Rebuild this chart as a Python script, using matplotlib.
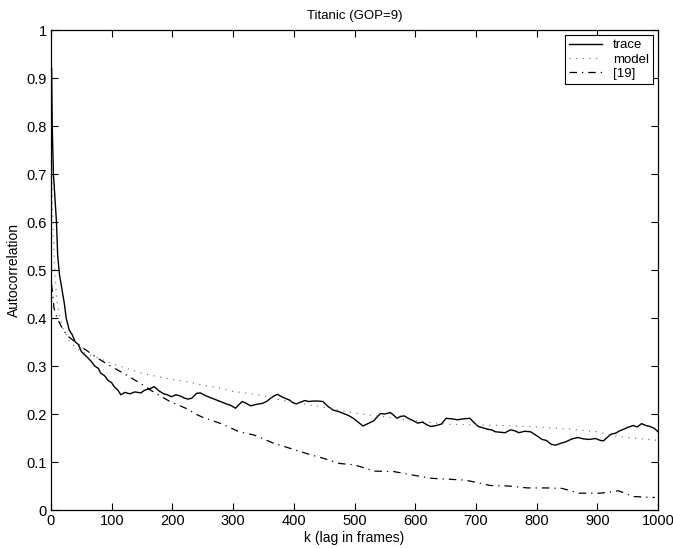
import matplotlib
matplotlib.use("Agg")
import matplotlib.pyplot as plt

plt.rcParams['font.family'] = ['Liberation Sans', 'DejaVu Sans']

title = "Titanic (GOP=9)"
xlabel = "k (lag in frames)"
ylabel = "Autocorrelation"
legend_labels = ["trace", "model", "[19]"]
xticks = [0, 100, 200, 300, 400, 500, 600, 700, 800, 900, 1000]
yticks = [0, 0.1, 0.2, 0.3, 0.4, 0.5, 0.6, 0.7, 0.8, 0.9, 1]
ytick_labels = ["0", "0.1", "0.2", "0.3", "0.4", "0.5", "0.6", "0.7", "0.8", "0.9", "1"]

trace_k = [1, 2, 4, 6, 9, 11, 14, 18, 22, 25, 30, 35, 40, 45, 50, 54, 60, 66, 72, 78,
           82, 88, 94, 100, 104, 110, 115, 122, 130, 138, 148, 155, 162, 170, 178, 186,
           192, 198, 206, 214, 220, 226, 232, 240, 246, 255, 265, 275, 287, 296, 304,
           310, 315, 322, 329, 338, 348, 355, 362, 368, 373, 380, 387, 393, 398, 404,
           410, 418, 425, 432, 440, 448, 456, 465, 474, 482, 490, 498, 506, 514, 522,
           532, 538, 543, 550, 559, 565, 570, 576, 582, 590, 597, 604, 612, 620, 626,
           635, 643, 651, 660, 670, 680, 690, 697, 704, 712, 720, 726, 732, 740, 748,
           757, 764, 771, 780, 790, 800, 809, 816, 824, 831, 840, 848, 858, 868, 878,
           887, 897, 905, 910, 917, 923, 930, 937, 943, 950, 959, 966, 973, 980, 987,
           994, 1000]
trace_v = [0.92, 0.80, 0.70, 0.66, 0.60, 0.53, 0.49, 0.46, 0.43, 0.40, 0.375, 0.365,
           0.35, 0.345, 0.33, 0.325, 0.318, 0.31, 0.30, 0.295, 0.285, 0.28, 0.27, 0.265,
           0.257, 0.25, 0.24, 0.245, 0.242, 0.246, 0.244, 0.25, 0.252, 0.257, 0.248,
           0.242, 0.24, 0.236, 0.24, 0.237, 0.233, 0.231, 0.233, 0.243, 0.244, 0.238,
           0.233, 0.228, 0.222, 0.218, 0.212, 0.22, 0.226, 0.222, 0.217, 0.22, 0.222,
           0.226, 0.233, 0.238, 0.241, 0.236, 0.232, 0.229, 0.224, 0.221, 0.224, 0.228,
           0.226, 0.227, 0.227, 0.226, 0.216, 0.208, 0.205, 0.201, 0.197, 0.191, 0.183,
           0.175, 0.18, 0.186, 0.195, 0.201, 0.2, 0.203, 0.197, 0.191, 0.195, 0.196,
           0.19, 0.186, 0.181, 0.183, 0.177, 0.174, 0.176, 0.179, 0.191, 0.19, 0.188,
           0.19, 0.191, 0.182, 0.174, 0.171, 0.168, 0.167, 0.163, 0.162, 0.161, 0.167,
           0.165, 0.161, 0.164, 0.163, 0.155, 0.147, 0.145, 0.137, 0.135, 0.139, 0.142,
           0.148, 0.151, 0.148, 0.147, 0.149, 0.145, 0.144, 0.152, 0.158, 0.16, 0.165,
           0.168, 0.172, 0.176, 0.173, 0.18, 0.176, 0.174, 0.17, 0.163]

model_k = [0, 3, 6, 10, 15, 20, 30, 40, 50, 75, 100, 125, 150, 175, 200, 225, 250, 275,
           300, 325, 350, 375, 400, 425, 450, 475, 500, 550, 600, 650, 700, 750, 800,
           850, 900, 925, 950, 1000]
model_v = [0.78, 0.6, 0.5, 0.43, 0.4, 0.378, 0.352, 0.34, 0.33, 0.318, 0.305, 0.295,
           0.285, 0.278, 0.272, 0.267, 0.26, 0.255, 0.247, 0.243, 0.238, 0.23, 0.224,
           0.219, 0.214, 0.208, 0.202, 0.194, 0.186, 0.179, 0.177, 0.176, 0.173, 0.169,
           0.163, 0.155, 0.151, 0.145]

ref19_k = [1, 5, 10, 20, 30, 40, 50, 77, 99, 115, 143, 170, 196, 222, 240, 250, 280,
           310, 335, 365, 395, 420, 448, 475, 500, 533, 565, 595, 627, 657, 684, 724,
           754, 785, 815, 842, 870, 905, 935, 960, 995]
ref19_v = [0.47, 0.42, 0.4, 0.375, 0.36, 0.35, 0.34, 0.316, 0.299, 0.288, 0.267, 0.245,
           0.226, 0.212, 0.199, 0.193, 0.18, 0.163, 0.156, 0.14, 0.128, 0.118, 0.108,
           0.097, 0.094, 0.081, 0.08, 0.073, 0.066, 0.064, 0.062, 0.051, 0.05, 0.046,
           0.046, 0.045, 0.035, 0.035, 0.04, 0.028, 0.026]

fig = plt.figure(figsize=(6.73, 5.48), dpi=100)
ax = fig.add_axes([51/673, 38/548, 607/673, 480/548])

ax.plot(trace_k, trace_v, color='black', linewidth=1.0, linestyle='-', label=legend_labels[0])
ax.plot(model_k, model_v, color='#666666', linewidth=0.8, linestyle=(0, (1, 5)), label=legend_labels[1])
ax.plot(ref19_k, ref19_v, color='black', linewidth=0.9, linestyle=(0, (6, 4, 1, 4)), label=legend_labels[2])

ax.set_xlim(0, 1000)
ax.set_ylim(0, 1)
ax.set_xticks(xticks)
ax.set_yticks(yticks)
ax.set_yticklabels(ytick_labels)
ax.tick_params(direction='in', top=True, right=True, length=5, width=0.8, labelsize=10.5, pad=3)
for s in ax.spines.values():
    s.set_linewidth(0.9)

ax.set_title(title, fontsize=9.5, pad=8)
ax.set_xlabel(xlabel, fontsize=10, labelpad=2)
ax.set_ylabel(ylabel, fontsize=10, labelpad=4)

leg = ax.legend(loc='upper right', fontsize=9.5, frameon=True, fancybox=False,
                edgecolor='black', framealpha=1, handlelength=2.5, borderpad=0.3,
                labelspacing=0.15, handletextpad=0.8, borderaxespad=0.4)
leg.get_frame().set_linewidth(0.8)

fig.savefig("out.png", dpi=100)
